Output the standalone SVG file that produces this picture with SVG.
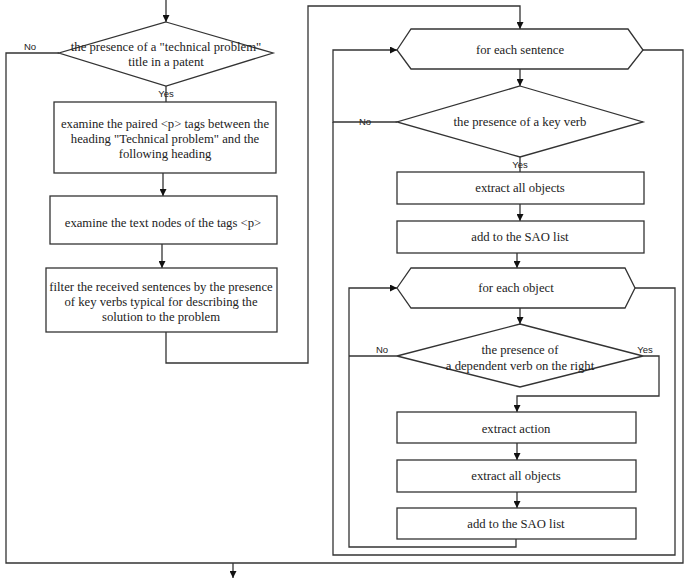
<svg xmlns="http://www.w3.org/2000/svg" width="685" height="580" viewBox="0 0 685 580">
<defs>
<style>
.s{fill:#fff;stroke:#333;stroke-width:1.3}
.c{fill:none;stroke:#333;stroke-width:1.3}
.t{font-family:"Liberation Serif","Times New Roman",serif;font-size:12.7px;fill:#222;text-anchor:middle}
.l{font-family:"Liberation Sans",Arial,sans-serif;font-size:9.5px;fill:#222;text-anchor:middle}
</style>
<marker id="a" viewBox="0 0 10 10" refX="10" refY="5" markerWidth="7" markerHeight="7" markerUnits="userSpaceOnUse" orient="auto">
<path d="M0,0 L10,5 L0,10 z" fill="#111"/>
</marker>
</defs>
<rect width="685" height="580" fill="#fff"/>
<g id="connectors">
<path class="c" d="M166,0 V22" marker-end="url(#a)"/>
<path class="c" d="M59,53 H6 V563 H683 V50 H643"/>
<path class="c" d="M233,563 V578" marker-end="url(#a)"/>
<path class="c" d="M166,86 V102"/>
<path class="c" d="M163,173 V196" marker-end="url(#a)"/>
<path class="c" d="M162,244 V268" marker-end="url(#a)"/>
<path class="c" d="M166,332 V363 H308 V6 H520 V29" marker-end="url(#a)"/>
<path class="c" d="M520,69 V86" marker-end="url(#a)"/>
<path class="c" d="M520,157 V172"/>
<path class="c" d="M397,122 H333 V50 H397" marker-end="url(#a)"/>
<path class="c" d="M520,204 V221" marker-end="url(#a)"/>
<path class="c" d="M517,253 V268" marker-end="url(#a)"/>
<path class="c" d="M635,288 H675 V555 H333 V122"/>
<path class="c" d="M520,308 V324" marker-end="url(#a)"/>
<path class="c" d="M397,356 H349"/>
<path class="c" d="M516,539 V547 H349 V288 H397" marker-end="url(#a)"/>
<path class="c" d="M643,356 H659 V396 H517 V412" marker-end="url(#a)"/>
<path class="c" d="M517,443 V460" marker-end="url(#a)"/>
<path class="c" d="M517,492 V508" marker-end="url(#a)"/>
<text class="l" x="30" y="50">No</text>
<text class="l" x="166" y="97">Yes</text>
<text class="l" x="365" y="125">No</text>
<text class="l" x="520" y="168">Yes</text>
<text class="l" x="382" y="353">No</text>
<text class="l" x="645" y="353">Yes</text>
</g>
<g id="n1">
<polygon class="s" points="166,22 273,53 166,86 59,53"/>
<text class="t" x="166" y="51">the presence of a "technical problem"</text>
<text class="t" x="166" y="66">title in a patent</text>
</g>
<g id="n2">
<rect class="s" x="54" y="102" width="222" height="71"/>
<text class="t" x="165" y="128">examine the paired &lt;p&gt; tags between the</text>
<text class="t" x="165" y="143">heading "Technical problem" and the</text>
<text class="t" x="165" y="158">following heading</text>
</g>
<g id="n3">
<rect class="s" x="50" y="196" width="227" height="48"/>
<text class="t" x="163" y="227">examine the text nodes of the tags &lt;p&gt;</text>
</g>
<g id="n4">
<rect class="s" x="46" y="268" width="231" height="64"/>
<text class="t" x="161" y="291">filter the received sentences by the presence</text>
<text class="t" x="161" y="306">of key verbs typical for describing the</text>
<text class="t" x="161" y="321">solution to the problem</text>
</g>
<g id="n5">
<polygon class="s" points="397,50 411,29 628,29 643,50 628,69 411,69"/>
<text class="t" x="520" y="54">for each sentence</text>
</g>
<g id="n6">
<polygon class="s" points="520,86 643,122 520,157 397,122"/>
<text class="t" x="520" y="126">the presence of a key verb</text>
</g>
<g id="n7">
<rect class="s" x="397" y="172" width="247" height="32"/>
<text class="t" x="520" y="192">extract all objects</text>
</g>
<g id="n8">
<rect class="s" x="397" y="221" width="247" height="32"/>
<text class="t" x="520" y="241">add to the SAO list</text>
</g>
<g id="n9">
<polygon class="s" points="397,288 411,268 625,268 635,288 625,308 411,308"/>
<text class="t" x="516" y="292">for each object</text>
</g>
<g id="n10">
<polygon class="s" points="520,324 643,356 520,387 397,356"/>
<text class="t" x="520" y="354">the presence of</text>
<text class="t" x="520" y="370">a dependent verb on the right</text>
</g>
<g id="n11">
<rect class="s" x="397" y="412" width="239" height="31"/>
<text class="t" x="516" y="433">extract action</text>
</g>
<g id="n12">
<rect class="s" x="397" y="460" width="239" height="32"/>
<text class="t" x="516" y="480">extract all objects</text>
</g>
<g id="n13">
<rect class="s" x="397" y="508" width="239" height="31"/>
<text class="t" x="516" y="528">add to the SAO list</text>
</g>
</svg>
